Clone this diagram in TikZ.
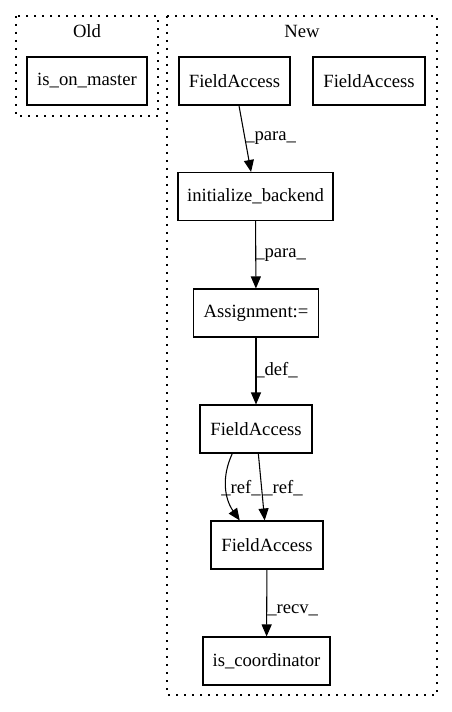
\documentclass[tikz,border=0pt]{standalone}
\usepackage{fontspec}
\setmainfont{Liberation Serif}
\usetikzlibrary{arrows.meta}
\begin{document}
\begin{tikzpicture}[x=0.75pt,y=-0.75pt,
  every node/.style={font=\fontsize{14}{16}\selectfont, inner sep=0pt},
  box/.style={draw, line width=0.8pt, minimum height=36pt},
  cluster/.style={draw, line width=0.8pt, dash pattern=on 1.2pt off 4.8pt},
  edge/.style={draw, line width=0.8pt, -{Triangle[length=9pt,width=7.5pt]}},
  elabel/.style={anchor=west}]
  \useasboundingbox (0,0) rectangle (452,712);

  % clusters
  \draw[cluster] (16,16) rectangle (158,116);
  \node (oldlbl) at (87,31) {Old};
  \draw[cluster] (167,16) rectangle (437,695);
  \node (newlbl) at (302,31) {New};

  % nodes
  \node[box, minimum width=90pt] (ism) at (87,81) {is\_on\_master};
  \node[box, minimum width=83.25pt] (fa1) at (234.5,81) {FieldAccess};
  \node[box, minimum width=84pt] (fa2) at (369,81) {FieldAccess};
  \node[box, minimum width=116.25pt] (ib) at (255.5,196.5) {initialize\_backend};
  \node[box, minimum width=93.75pt] (asg) at (256,313) {Assignment:=};
  \node[box, minimum width=84pt] (fa3) at (256,429) {FieldAccess};
  \node[box, minimum width=84pt] (fa4) at (267,545) {FieldAccess};
  \node[box, minimum width=95.25pt] (isc) at (266.5,661) {is\_coordinator};

  % connectors
  \draw[edge] (fa1) -- (ib);
  \node[elabel] (l1) at (245,138) {\_para\_};
  \draw[edge] (ib) -- (asg);
  \node[elabel] (l2) at (255,255) {\_para\_};
  \draw[edge] (asg) -- (fa3);
  \node[elabel] (l3) at (255,370) {\_def\_};
  \draw[edge] (fa3.226) to[out=245, in=125] (fa4.138);
  \node[elabel] (l4) at (221,488) {\_ref\_};
  \draw[edge] (fa3) -- (fa4);
  \node[elabel] (l5) at (263,488) {\_ref\_};
  \draw[edge] (fa4) -- (isc);
  \node[elabel] (l6) at (267,610) {\_recv\_};
\end{tikzpicture}
\end{document}
